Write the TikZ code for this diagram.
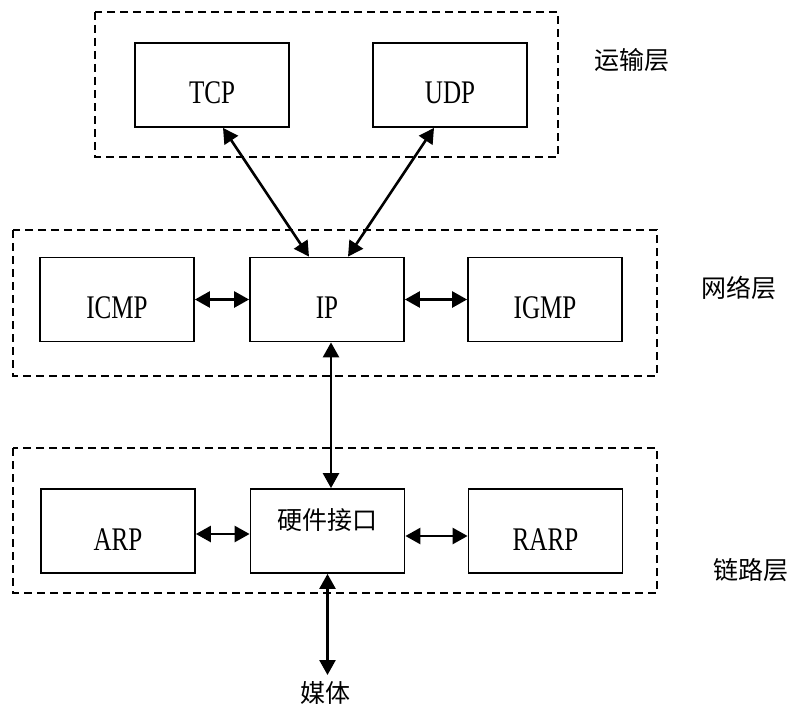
\documentclass[tikz,border=0pt]{standalone}
\usepackage{fontspec}
\newfontfamily\cjk{Noto Sans CJK SC}
\newfontfamily\lat[FakeStretch=0.76]{Liberation Serif}
\usetikzlibrary{arrows.meta,calc}
\begin{document}
\begin{tikzpicture}[x=1pt,y=-1pt,
  layer/.style={draw,line width=1.8pt,dash pattern=on 8pt off 5pt},
  box/.style={draw,line width=1.8pt,rectangle,minimum width=154pt,minimum height=84pt,inner sep=0pt},
  lat/.style={font=\lat\fontsize{33}{36}\selectfont,inner sep=0pt},
  zh/.style={font=\cjk\fontsize{25}{30}\selectfont,inner sep=0pt},
  link/.style={line width=2.6pt,arrows={Triangle[length=15pt,width=16pt]-Triangle[length=15pt,width=16pt]}}]
\useasboundingbox (0,0) rectangle (795,709);
% layers
\draw[layer] (95,12) rectangle (558,157);
\draw[layer] (13,230) rectangle (657,376);
\draw[layer] (13,448) rectangle (657,593);
% boxes
\node[box] (tcp) at (212,85) {};
\node[box] (udp) at (450,85) {};
\node[box] (icmp) at (117,299.5) {};
\node[box] (ip) at (327,299.5) {};
\node[box] (igmp) at (545,299.5) {};
\node[box] (arp) at (118,531) {};
\node[box] (hw) at (327.5,531) {};
\node[box] (rarp) at (545.5,531) {};
% texts
\node[lat] (ttcp) at (212,93) {TCP};
\node[lat] (tudp) at (450,93) {UDP};
\node[lat] (ticmp) at (117,308) {ICMP};
\node[lat] (tip) at (327,308) {IP};
\node[lat] (tigmp) at (545,308) {IGMP};
\node[lat] (tarp) at (118,540) {ARP};
\node[zh] (thw) at (327,520) {硬件接口};
\node[lat] (trarp) at (545.5,540) {RARP};
\node[zh] (l1) at (632,60) {运输层};
\node[zh] (l2) at (739,288) {网络层};
\node[zh] (l3) at (751,570) {链路层};
\node[zh] (media) at (325,693) {媒体};
\coordinate (mediatop) at (327.5,675);
% connectors
\draw[link] ($(tcp.south)+(11,0)$) -- ($(ip.north)+(-18,0)$);
\draw[link] ($(udp.south)+(-16,0)$) -- ($(ip.north)+(21,0)$);
\draw[link] (icmp.east) -- (ip.west);
\draw[link] (ip.east) -- (igmp.west);
\draw[link] ($(ip.south)+(4,0)$) -- ($(hw.north)+(3.5,0)$);
\draw[link] ($(arp.east)+(0,3)$) -- ($(hw.west)+(0,3)$);
\draw[link] ($(hw.east)+(0,5)$) -- ($(rarp.west)+(0,5)$);
\draw[link] (hw.south) -- (mediatop);
\end{tikzpicture}
\end{document}
